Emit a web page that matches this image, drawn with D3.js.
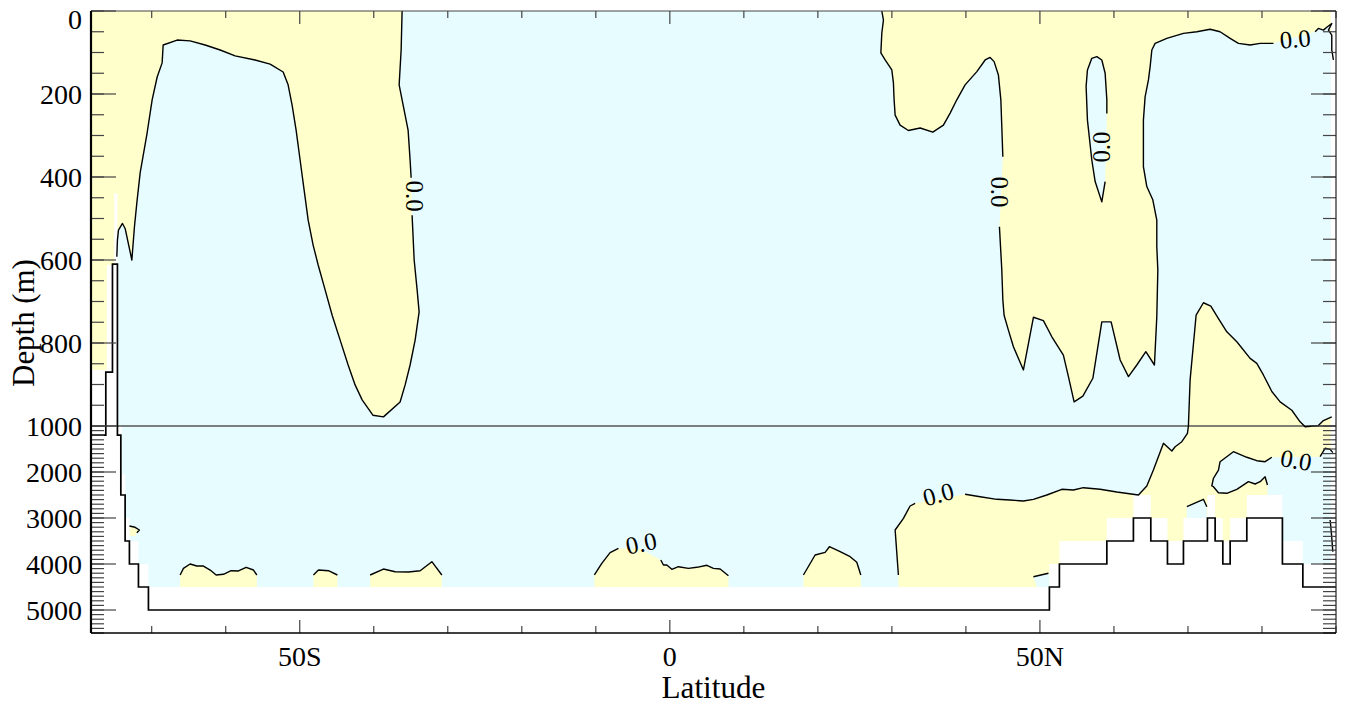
<!DOCTYPE html>
<html>
<head>
<meta charset="utf-8">
<script src="https://cdn.jsdelivr.net/npm/d3@7"></script>
<style>
  body { margin: 0; background: #fff; }
  svg { display: block; }
</style>
</head>
<body>
<svg id="chart" width="1347" height="706"></svg>
<script>
// ---- data: [latitude, depth (m)] ----

// tick values
var latMinor = [-70, -60, -40, -30, -20, -10, 10, 20, 30, 40, 60, 70, 80, 90]
var latMajor = [-50, 0, 50]
var latLabels = ["50S", "0", "50N"]
var depthMajorTop = [0, 200, 400, 600, 800, 1000]
var depthMajorBottom = [2000, 3000, 4000, 5000]

// southern upper cell, zero contour (split where the label sits)
var southA = [[-74.71,592],[-74.63,552],[-74.49,528],[-73.95,512],[-73.59,524],[-72.68,600],[-72.33,520],[-72.01,463],
  [-71.56,390],[-70.62,294],[-69.94,214],[-69.26,159],[-68.59,125],[-68.45,82],[-66.56,70],[-64.81,72],[-62.78,82],
  [-60.75,94],[-58.73,108],[-56.03,118],[-54.0,128],[-52.24,147],[-51.57,178],[-51.03,227],[-50.49,287],[-49.95,359],
  [-49.41,431],[-48.86,504],[-48.19,564],[-47.51,612],[-46.57,672],[-45.62,733],[-44.54,793],[-43.46,853],[-42.52,901],
  [-41.57,937],[-40.12,974],[-38.69,978],[-36.44,942],[-35.76,901],[-35.09,853],[-34.41,793],[-33.87,725],[-34.14,672],
  [-34.54,600],[-34.82,492]]
var southB = [[-34.95,402],[-35.09,359],[-35.36,287],[-36.03,227],[-36.57,178],[-36.30,94],[-36.17,0]]
var southClose = [[-78.2,0],[-78.2,1000],[-74.63,1000],[-74.63,592]]

// northern upper cell
var northA = [[28.64,0],[28.86,22],[28.64,53],[28.51,101],[29.09,118],[29.99,142],[30.21,174],[30.30,214],[30.44,251],
  [31.11,275],[32.23,288],[33.82,282],[35.53,292],[36.96,275],[37.87,246],[38.77,214],[39.89,178],[41.48,146],
  [42.60,118],[43.27,112],[43.81,122],[44.39,154],[44.72,214],[44.85,279],[44.99,351]]
var northB = [[44.53,520],[44.85,624],[44.99,696],[45.16,733],[45.74,769],[46.42,809],[47.77,865],[49.12,738],
  [50.47,746],[51.61,785],[53.17,829],[53.85,881],[54.62,942],[55.80,928],[57.15,885],[58.36,749],[59.62,749],
  [60.84,841],[61.96,881],[63.09,853],[64.31,821],[65.47,853],[65.79,737],[65.93,624],[65.79,568],[65.79,504],
  [65.25,455],[64.44,423],[63.98,375],[63.98,263],[64.21,207],[64.66,166],[64.89,134],[65.12,94],[65.56,78],
  [67.14,66],[69.39,54],[71.20,50],[72.99,44],[74.34,50],[75.70,66],[76.82,78],[78.40,82],[79.75,78],[81.55,78]]
var northC = [[87.18,50],[87.62,42],[88.30,46],[88.84,38],[89.43,30],[88.98,46],[89.43,58],[89.43,94],[89.65,118]]
var northClose = [[90,118],[90,0]]

// negative lens inside the northern cell
var northLens = [[58.81,411],[58.36,460],[57.46,411],[57.01,359],[56.42,263],[56.24,182],[56.42,142],[57.01,114],
  [57.69,110],[58.36,118],[58.81,150],[59.04,214],[59.04,247]]

// northern deep cell
var deepA = [[30.88,4239],[30.44,3261],[31.56,3007],[32.46,2739],[33.14,2681]]
var deepB = [[39.89,2485],[41.92,2537],[44.18,2594],[45.97,2609],[47.77,2630],[49.12,2594],[50.93,2500],[52.96,2376],
  [54.53,2391],[55.88,2341],[58.13,2376],[60.39,2435],[63.31,2500],[64.44,2304],[65.33,1957],[66.69,1376],
  [67.82,1544],[68.27,1450],[69.17,1341],[69.93,1159],[70.06,1000],[70.29,889],[71.10,733],[72.09,703],[73.09,711],
  [74.12,741],[75.25,773],[76.60,797],[78.40,837],[79.30,849],[80.19,877],[81.33,917],[82.45,942],[84.03,962],
  [85.15,990],[85.83,1015],[87.62,999],[88.30,987],[89.43,978]]
var arcticA = [[89.57,1580],[89.21,1507],[88.53,1485],[87.85,1667]]
var arcticB = [[81.33,1680],[80.42,1776],[79.30,1754],[77.95,1680],[76.14,1559],[74.34,1776],[74.12,1957],
  [73.44,2137],[73.22,2304],[73.44,2320],[74.12,2450],[75.25,2463],[76.60,2376],[78.17,2211],[79.07,2261],
  [79.75,2211],[80.42,2102],[80.74,2283]]
var deepClose = [[80.74,4500],[30.88,4500]]

// small cells near the bottom
var blobSouthShelf = [[-73.01,3174],[-72.24,3202],[-71.66,3261],[-72.01,3320]]
var blob1 = [[-66.16,4239],[-65.71,4094],[-64.81,4000],[-63.90,4044],[-63.01,4044],[-62.10,4131],[-61.29,4239],
  [-60.31,4224],[-59.27,4146],[-58.28,4152],[-57.24,4072],[-56.25,4131],[-55.80,4239]]
var blob2 = [[-48.15,4239],[-47.47,4131],[-46.12,4146],[-44.91,4239]]
var blob3 = [[-40.49,4239],[-38.69,4109],[-37.11,4168],[-35.31,4174],[-33.73,4146],[-32.15,3950],[-30.80,4239]]
var blob4a = [[-10.19,4239],[-9.19,3985],[-8.07,3754],[-6.94,3659]]
var blob4b = [[-1.22,3913],[-0.86,4022],[-0.41,4022],[0.27,4115],[1.16,4059],[2.51,4094],[3.65,4072],[5.00,4028],
  [5.89,4094],[6.80,4109],[7.92,4254]]
var blob5 = [[18.05,4239],[19.63,3804],[20.98,3746],[21.56,3624],[23.01,3733],[24.36,3841],[25.26,3963],[25.80,4239]]
var smallNeg1 = [[69.85,2754],[72.09,2594],[72.55,2754]]
var smallNeg2 = [[49.12,4276],[51.15,4202]]
var edgeLine = [[89.21,3044],[89.40,3370],[89.57,3733]]

// grid cells without data (fill floor) and the bottom outline
var noData = [[-78.2,865],[-76.06,865],[-76.06,612],[-75.07,612],[-75.07,439],[-74.63,439],[-74.63,1000],
  [-74.03,1000],[-74.03,2050],[-73.59,2050],[-73.59,3000],[-73.01,3000],[-73.01,3500],[-71.79,3500],[-71.79,4000],
  [-70.44,4000],[-70.44,4500],[51.28,4500],[51.28,4000],[52.63,4000],[52.63,3500],[59.04,3500],[59.04,3000],
  [62.63,3000],[62.63,2500],[64.98,2500],[64.98,3000],[67.23,3000],[67.23,3500],[69.39,3500],[69.39,3000],
  [72.63,3000],[72.63,2500],[73.67,2500],[73.67,3000],[74.71,3000],[74.71,3500],[75.70,3500],[75.70,3000],
  [77.95,3000],[77.95,2500],[82.76,2500],[82.76,3500],[85.52,3500],[85.52,4000],[90,4000],[90,5500],[-78.2,5500]]
var bottom = [[-78.2,1200],[-76.20,1200],[-76.20,870],[-75.30,870],[-75.30,610],[-74.63,610],[-74.63,1200],
  [-74.17,1200],[-74.17,2500],[-73.59,2500],[-73.59,3500],[-73.01,3500],[-73.01,4000],[-71.79,4000],[-71.79,4500],
  [-70.44,4500],[-70.44,5000],[51.28,5000],[51.28,4500],[52.63,4500],[52.63,4000],[59.04,4000],[59.04,3500],
  [62.63,3500],[62.63,3000],[64.98,3000],[64.98,3500],[67.23,3500],[67.23,4000],[69.39,4000],[69.39,3500],
  [72.63,3500],[72.63,3000],[73.67,3000],[73.67,3500],[74.71,3500],[74.71,4000],[75.70,4000],[75.70,3500],
  [77.95,3500],[77.95,3000],[82.76,3000],[82.76,4000],[85.52,4000],[85.52,4500],[90,4500]]

// contour labels: [lat, depth, angle]
var labelLat = [-34.5, 44.62, 58.27, 84.48, 84.61, 36.25, -3.88]
var labelDepth = [446, 436, 328, 67, 1739, 2478, 3544]
var labelAngle = [90, 90, -90, -5, 10, -15, -12]

// ---- chart ----
var margin = { top: 11, right: 11, bottom: 73, left: 91 }
var width = 1347 - margin.left - margin.right
var height = 706 - margin.top - margin.bottom
var serif = "'Liberation Serif', 'DejaVu Serif', 'Times New Roman', Times, serif"

var yellow = "#ffffcc"
var cyan = "#e6fcff"

var svg = d3.select("#chart")
var root = svg.append("g").attr("transform", "translate(" + margin.left + "," + margin.top + ")")

// pick a font size so a sample string comes out as wide as in the original
function fitSize(sample, target) {
  var t = svg.append("text").attr("font-family", serif).attr("font-size", 100).text(sample)
  var w = t.node().getComputedTextLength()
  t.remove()
  return Math.round(1000 * target / w) / 10
}
var tickSize = fitSize("5000", 56)
var titleSize = fitSize("Latitude", 104)
var depthTitleSize = fitSize("Depth (m)", 128)
var labelSize = fitSize("0.0", 31)

var x = d3.scaleLinear().domain([-78.2, 90]).range([0, width])
// two stacked depth panels: 0-1000 m stretched, 1000-5500 m squeezed
var y = d3.scaleLinear().domain([0, 1000, 5500]).range([0, 415, height])

var line = d3.line().x(function (d) { return x(d[0]) }).y(function (d) { return y(d[1]) })
function shape(pts) { return line(pts) + "Z" }
function floorOf(pts) {
  return pts.concat([[pts[pts.length - 1][0], 4500], [pts[0][0], 4500]])
}

root.append("rect").attr("width", width).attr("height", height).attr("fill", cyan)

var yellowShapes = [
  southA.concat(southB, southClose),
  northA.concat(northB, northC, northClose),
  deepA.concat(deepB, [[90, 978], [90, 1580]], arcticA, arcticB, deepClose),
  blobSouthShelf.concat([[-72.24, 3391], [-73.01, 3391]]),
  floorOf(blob1), floorOf(blob2), floorOf(blob3),
  floorOf(blob4a.concat([[-4.01, 3674]], blob4b)),
  floorOf(blob5)
]
root.append("g").selectAll("path").data(yellowShapes).join("path")
  .attr("d", shape).attr("fill", yellow)

var cyanShapes = [
  northLens,
  smallNeg1.concat([[72.55, 3000], [69.85, 3000]]),
  smallNeg2.concat([[51.28, 4195], [51.28, 4500], [49.6, 4500]])
]
root.append("g").selectAll("path").data(cyanShapes).join("path")
  .attr("d", shape).attr("fill", cyan)

// no-data cells
root.append("path").attr("d", shape(noData)).attr("fill", "#fff")
root.append("rect").attr("x", x(89.3)).attr("width", width - x(89.3)).attr("height", height).attr("fill", "#fff")

// panel separator at 1000 m
root.append("line").attr("x1", 0).attr("x2", width).attr("y1", y(1000)).attr("y2", y(1000))
  .attr("stroke", "#555").attr("stroke-width", 1.3)

var contours = [southA, southB, northA, northB, northC, northLens, deepA, deepB, arcticA, arcticB,
  blobSouthShelf, blob1, blob2, blob3, blob4a, blob4b, blob5, smallNeg1, smallNeg2, edgeLine]
root.append("g").selectAll("path").data(contours).join("path")
  .attr("d", line).attr("fill", "none").attr("stroke", "#000").attr("stroke-width", 1.4)
  .attr("stroke-linejoin", "round")

root.append("path").attr("d", line(bottom)).attr("fill", "none")
  .attr("stroke", "#000").attr("stroke-width", 1.7)

root.append("g").selectAll("text").data(labelLat).join("text")
  .attr("transform", function (d, i) {
    return "translate(" + x(d) + "," + y(labelDepth[i]) + ") rotate(" + labelAngle[i] + ")"
  })
  .attr("text-anchor", "middle").attr("dy", "0.35em")
  .attr("font-family", serif).attr("font-size", labelSize)
  .text("0.0")

// ---- axes ----
var tickColor = "#444"
var axes = root.append("g")
var depthMinor = d3.range(0, 1001, 50).concat(d3.range(1100, 5501, 100))
var depthMajor = depthMajorTop.concat(depthMajorBottom)

function tickLines(data, pos, len, vertical, side) {
  axes.append("g").selectAll("line").data(data).join("line")
    .attr("x1", function (d) { return vertical ? side : pos(d) })
    .attr("x2", function (d) { return vertical ? side + len : pos(d) })
    .attr("y1", function (d) { return vertical ? pos(d) : side })
    .attr("y2", function (d) { return vertical ? pos(d) : side + len })
    .attr("stroke", tickColor).attr("stroke-width", 1.2)
}
tickLines(depthMinor, y, 13, true, 0)
tickLines(depthMajor, y, 25, true, 0)
tickLines(depthMinor, y, -13, true, width)
tickLines(depthMajor, y, -25, true, width)
tickLines(latMinor, x, -7, false, height)
tickLines(latMajor, x, -13, false, height)
tickLines(latMinor, x, 7, false, 0)
tickLines(latMajor, x, 13, false, 0)

axes.append("line").attr("x1", 0).attr("x2", width).attr("y1", 0).attr("y2", 0).attr("stroke", "#444").attr("stroke-width", 1)
axes.append("line").attr("x1", width).attr("x2", width).attr("y1", 0).attr("y2", height).attr("stroke", "#222").attr("stroke-width", 1.2)
axes.append("line").attr("x1", 0).attr("x2", width).attr("y1", height).attr("y2", height).attr("stroke", "#000").attr("stroke-width", 1.6)
axes.append("line").attr("x1", 0).attr("x2", 0).attr("y1", 0).attr("y2", height).attr("stroke", "#000").attr("stroke-width", 2.2)

axes.append("g").selectAll("text").data(depthMajor).join("text")
  .attr("x", -9).attr("y", function (d) { return Math.max(y(d), 8) })
  .attr("dy", "0.35em").attr("text-anchor", "end")
  .attr("font-family", serif).attr("font-size", tickSize)
  .text(function (d) { return d })

axes.append("g").selectAll("text").data(latMajor).join("text")
  .attr("x", function (d) { return x(d) }).attr("y", height + 33)
  .attr("text-anchor", "middle").attr("font-family", serif).attr("font-size", tickSize)
  .text(function (d, i) { return latLabels[i] })

axes.append("text").attr("x", width / 2).attr("y", height + 65)
  .attr("text-anchor", "middle").attr("font-family", serif).attr("font-size", titleSize).text("Latitude")

axes.append("text").attr("transform", "translate(" + (-57) + "," + 312 + ") rotate(-90)")
  .attr("text-anchor", "middle").attr("font-family", serif).attr("font-size", depthTitleSize).text("Depth (m)")
</script>
</body>
</html>
